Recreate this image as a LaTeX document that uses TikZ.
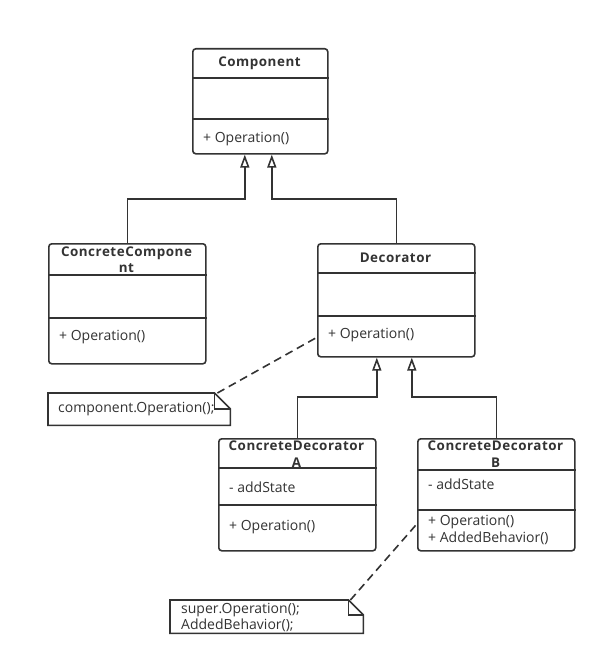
\documentclass[tikz,border=0pt]{standalone}
\usepackage{fontspec}
\setmainfont{Open Sans}
\newfontfamily\titlefont[LetterSpace=4]{Open Sans Bold}
\usetikzlibrary{arrows.meta,calc}
\definecolor{ink}{HTML}{333333}
\tikzset{
  box/.style={draw=ink, line width=1.6pt, rounded corners=3pt, anchor=north west, inner sep=0pt},
  divider/.style={draw=ink, line width=1.6pt},
  ttl/.style={font=\titlefont\fontsize{13.4}{16.5}\selectfont, text=ink, inner sep=0pt, align=center},
  txt/.style={font=\fontsize{14}{16.5}\selectfont, text=ink, inner sep=0pt, anchor=west, align=left},
  inh/.style={draw=ink, line width=1.6pt, -{Triangle[open, length=13pt, width=9pt, line width=1.6pt]}},
  notebox/.style={inner sep=0pt, anchor=north west},
  noteline/.style={draw=ink, line width=1.6pt},
  dep/.style={draw=ink, line width=1.6pt, dash pattern=on 8pt off 5pt},
}
\begin{document}
\begin{tikzpicture}[x=1pt,y=-1pt]
\fill[white] (0,0) rectangle (605,666);
\useasboundingbox (0,0) rectangle (605,666);

% Component
\node[box, minimum width=135pt, minimum height=105pt] (comp) at (192,48) {};
\draw[divider] (comp.west |- 0,78) -- (comp.east |- 0,78);
\draw[divider] (comp.west |- 0,119) -- (comp.east |- 0,119);
\node[ttl] (compT) at (259.5,63) {Component};
\node[txt] (compO) at (203,139) {+ Operation()};

% ConcreteComponent
\node[box, minimum width=157pt, minimum height=120pt] (cc) at (48,243) {};
\draw[divider] (cc.west |- 0,275) -- (cc.east |- 0,275);
\draw[divider] (cc.west |- 0,318) -- (cc.east |- 0,318);
\node[ttl] (ccT) at (126.5,259.5) {ConcreteCompone\\nt};
\node[txt] (ccO) at (59,337) {+ Operation()};

% Decorator
\node[box, minimum width=157pt, minimum height=113pt] (dec) at (317,243) {};
\draw[divider] (dec.west |- 0,273) -- (dec.east |- 0,273);
\draw[divider] (dec.west |- 0,316) -- (dec.east |- 0,316);
\node[ttl] (decT) at (395.5,258) {Decorator};
\node[txt] (decO) at (328,335) {+ Operation()};

% ConcreteDecoratorA
\node[box, minimum width=157pt, minimum height=112pt] (cda) at (218,438) {};
\draw[divider] (cda.west |- 0,468) -- (cda.east |- 0,468);
\draw[divider] (cda.west |- 0,505) -- (cda.east |- 0,505);
\node[ttl] (cdaT) at (296.5,454) {ConcreteDecorator\\A};
\node[txt] (cdaS) at (229,487) {- addState};
\node[txt] (cdaO) at (229,527) {+ Operation()};

% ConcreteDecoratorB
\node[box, minimum width=157pt, minimum height=112pt] (cdb) at (417,438) {};
\draw[divider] (cdb.west |- 0,470) -- (cdb.east |- 0,470);
\draw[divider] (cdb.west |- 0,510) -- (cdb.east |- 0,510);
\node[ttl] (cdbT) at (495.5,454) {ConcreteDecorator\\B};
\node[txt] (cdbS) at (428,484) {- addState};
\node[txt] (cdbO) at (428,530) {+ Operation()\\+ AddedBehavior()};

% Note 1
\node[notebox, minimum width=182pt, minimum height=32pt] (n1) at (48,393) {};
\draw[noteline] (n1.north west) -- ([xshift=-16pt]n1.north east) -- ([yshift=-16pt]n1.north east) -- (n1.south east) -- (n1.south west) -- cycle;
\draw[noteline] ([xshift=-16pt]n1.north east) -- ++(0,16) -- ([yshift=-16pt]n1.north east);
\node[txt] (n1T) at (58,409) {component.Operation();};

% Note 2
\node[notebox, minimum width=193pt, minimum height=33pt] (n2) at (170,600) {};
\draw[noteline] (n2.north west) -- ([xshift=-15pt]n2.north east) -- ([yshift=-15pt]n2.north east) -- (n2.south east) -- (n2.south west) -- cycle;
\draw[noteline] ([xshift=-15pt]n2.north east) -- ++(0,15) -- ([yshift=-15pt]n2.north east);
\node[txt] (n2T) at (181,617.5) {super.Operation();\\AddedBehavior();};

% Inheritance connectors
\draw[inh] (cc.north) -- ++(0,-44) -| ([xshift=-15.5pt]comp.south);
\draw[inh] (dec.north) -- ++(0,-44) -| ([xshift=11.5pt]comp.south);
\draw[inh] (cda.north) -- ++(0,-41) -| ([xshift=-19.5pt]dec.south);
\draw[inh] (cdb.north) -- ++(0,-41) -| ([xshift=15.5pt]dec.south);

% Note connectors
\draw[dep] ([xshift=-13pt]n1.north east) -- ([yshift=-37pt]dec.west);
\draw[dep] ([xshift=-13pt]n2.north east) -- ([yshift=-29pt]cdb.west);
\end{tikzpicture}
\end{document}
